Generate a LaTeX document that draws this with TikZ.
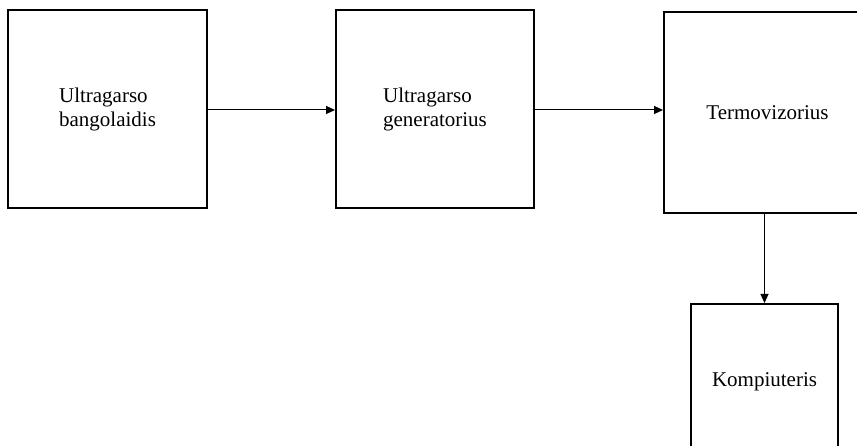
\documentclass[tikz,border=0pt]{standalone}
\usepackage{fontspec}
\setmainfont{Liberation Serif}
\usetikzlibrary{arrows.meta}
\begin{document}
\begin{tikzpicture}[x=1pt,y=-1pt,
  blockbox/.style={draw=black,line width=2pt,fill=white,align=left,inner sep=0pt,
    font=\fontsize{21}{24}\selectfont},
  conn/.style={draw=black,line width=1pt,-{Triangle[length=9pt,width=8pt]}}]
\useasboundingbox (0,0) rectangle (857,446);
\clip (0,0) rectangle (857,446);
\node[blockbox,minimum width=199pt,minimum height=198pt] (b1) at (107.5,109) {Ultragarso\\bangolaidis};
\node[blockbox,minimum width=198pt,minimum height=198pt] (b2) at (435,109) {Ultragarso\\generatorius};
\node[blockbox,minimum width=207pt,minimum height=201pt] (b3) at (767.5,112.5) {Termovizorius};
\node[blockbox,minimum width=147pt,minimum height=156pt] (b4) at (764.5,382) {Kompiuteris};
\coordinate (a1) at ([yshift=-1pt]b1.east);
\coordinate (a2) at ([yshift=-1pt]b2.east);
\draw[conn] (a1) -- (b2.west |- a1);
\draw[conn] (a2) -- (b3.west |- a2);
\draw[conn] (b3.south -| b4.north) -- (b4.north);
\end{tikzpicture}
\end{document}
